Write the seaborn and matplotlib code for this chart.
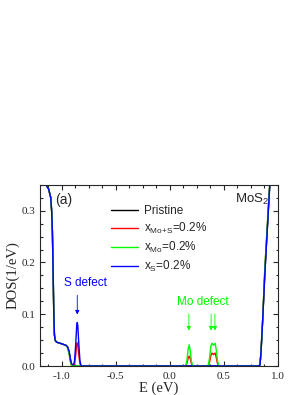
import matplotlib
matplotlib.use("Agg")
import matplotlib.pyplot as plt
from matplotlib.ticker import MultipleLocator, AutoMinorLocator
import seaborn as sns

# energy grid (eV) and DOS values
energy = [-1.20, -1.15, -1.12, -1.10, -1.092, -1.085, -1.078, -1.072, -1.066, -1.058,
          -1.045, -1.00, -0.96, -0.945, -0.93, -0.92, -0.91, -0.90, -0.89, -0.88,
          -0.87, -0.86, -0.855, -0.85, -0.84, -0.83, -0.82, -0.81, -0.80,
          0.14, 0.15, 0.16, 0.17, 0.18, 0.19, 0.20, 0.21, 0.22,
          0.35, 0.36, 0.37, 0.38, 0.39, 0.405, 0.42, 0.43, 0.44, 0.45, 0.46,
          0.82, 0.835, 0.845, 0.86, 0.88, 0.90, 0.92, 0.94, 1.00]

dos_pristine = [0.36, 0.352, 0.342, 0.325, 0.30, 0.26, 0.18, 0.10, 0.06, 0.049,
                0.046, 0.043, 0.040, 0.037, 0.028, 0.015, 0.005, 0.001, 0, 0,
                0, 0, 0, 0, 0, 0, 0, 0, 0,
                0, 0, 0, 0, 0, 0, 0, 0, 0,
                0, 0, 0, 0, 0, 0, 0, 0, 0, 0, 0,
                0, 0.002, 0.03, 0.09, 0.18, 0.255, 0.33, 0.40, 0.60]

dos_mo_s = [0.36, 0.352, 0.342, 0.325, 0.30, 0.26, 0.18, 0.10, 0.06, 0.049,
            0.046, 0.043, 0.040, 0.036, 0.024, 0.010, 0.002, 0, 0, 0.004,
            0.020, 0.042, 0.045, 0.042, 0.020, 0.004, 0, 0, 0,
            0, 0.001, 0.006, 0.015, 0.019, 0.014, 0.005, 0.001, 0,
            0, 0.002, 0.009, 0.020, 0.025, 0.022, 0.025, 0.017, 0.006, 0.001, 0,
            0, 0.002, 0.03, 0.092, 0.19, 0.262, 0.335, 0.40, 0.60]

dos_mo = [0.36, 0.352, 0.342, 0.325, 0.30, 0.26, 0.18, 0.10, 0.06, 0.049,
          0.046, 0.043, 0.040, 0.036, 0.024, 0.010, 0.002, 0, 0, 0,
          0, 0, 0, 0, 0, 0, 0, 0, 0,
          0, 0.002, 0.012, 0.032, 0.041, 0.030, 0.010, 0.002, 0,
          0, 0.004, 0.018, 0.038, 0.044, 0.040, 0.044, 0.032, 0.012, 0.003, 0,
          0, 0.002, 0.03, 0.092, 0.19, 0.262, 0.335, 0.40, 0.60]

dos_s = [0.36, 0.352, 0.342, 0.325, 0.30, 0.26, 0.18, 0.10, 0.06, 0.049,
         0.046, 0.043, 0.040, 0.037, 0.028, 0.015, 0.005, 0.003, 0.002, 0.010,
         0.040, 0.078, 0.084, 0.078, 0.040, 0.010, 0.001, 0, 0,
         0, 0, 0, 0, 0, 0, 0, 0, 0,
         0, 0, 0, 0, 0, 0, 0, 0, 0, 0, 0,
         0, 0.002, 0.03, 0.09, 0.18, 0.255, 0.33, 0.40, 0.60]

labels = ["Pristine", r"x$_\mathregular{Mo{+}S}$=0.2%", r"x$_\mathregular{Mo}$=0.2%", r"x$_\mathregular{S}$=0.2%"]
colors = ["#000000", "#ff0000", "#00ff00", "#0000ff"]

s_defect_e = [-0.855]
mo_defect_e = [0.177, 0.383, 0.418]

sns.set_style("ticks")
plt.rcParams["font.family"] = ["Liberation Serif", "DejaVu Serif"]
plt.rcParams["mathtext.fontset"] = "custom"
plt.rcParams["mathtext.rm"] = "Liberation Sans"
plt.rcParams["axes.unicode_minus"] = False

fig = plt.figure(figsize=(3.05, 3.95), dpi=100)
ax = fig.add_axes([0.131, 0.0734, 0.78, 0.4586])

for vals, lab, col in zip([dos_pristine, dos_mo_s, dos_mo, dos_s], labels, colors):
    sns.lineplot(x=energy, y=vals, color=col, label=lab, linewidth=1.0, ax=ax)

ax.set_xlim(-1.2, 1.0)
ax.set_ylim(0, 0.35)
ax.xaxis.set_major_locator(MultipleLocator(0.5))
ax.xaxis.set_minor_locator(AutoMinorLocator(4))
ax.yaxis.set_major_locator(MultipleLocator(0.1))
ax.yaxis.set_minor_locator(AutoMinorLocator(4))
ax.tick_params(which="both", direction="in", top=True, right=True, width=0.8, labelsize=8)
ax.tick_params(which="major", length=3.5)
ax.tick_params(which="minor", length=1.8)
ax.tick_params(axis="x", pad=4)
ax.tick_params(axis="y", pad=3.5)
for sp in ax.spines.values():
    sp.set_linewidth(0.8)
    sp.set_visible(True)

ax.set_xlabel("E (eV)", fontsize=10.5, labelpad=1)
ax.set_ylabel("DOS(1/eV)", fontsize=10.5, labelpad=1)

sans = ["Liberation Sans", "DejaVu Sans"]
leg = ax.legend(loc="upper left", bbox_to_anchor=(0.30, 0.89), frameon=False,
                prop={"family": sans, "size": 8.5}, handlelength=2.3,
                handletextpad=0.5, labelspacing=0.35, borderpad=0, borderaxespad=0)

ax.text(-1.061, 0.32, "(a)", family=sans, fontsize=10, va="center", ha="left")
ax.text(0.60, 0.322, r"MoS$_\mathregular{2}$", family=sans, fontsize=9.5, va="center", ha="left")

ax.text(-0.98, 0.161, "S defect", family=sans, fontsize=8.5, color="#0000ff", va="center", ha="left")
for e in s_defect_e:
    ax.annotate("", xy=(e, 0.094), xytext=(e, 0.142),
                arrowprops=dict(arrowstyle="-|>", color="#0000ff", lw=0.6, mutation_scale=6))

ax.text(0.064, 0.123, "Mo defect", family=sans, fontsize=8.5, color="#00ff00", va="center", ha="left")
for e in mo_defect_e:
    ax.annotate("", xy=(e, 0.063), xytext=(e, 0.106),
                arrowprops=dict(arrowstyle="-|>", color="#00ff00", lw=0.6, mutation_scale=6))

fig.savefig("out.png", dpi=100)
